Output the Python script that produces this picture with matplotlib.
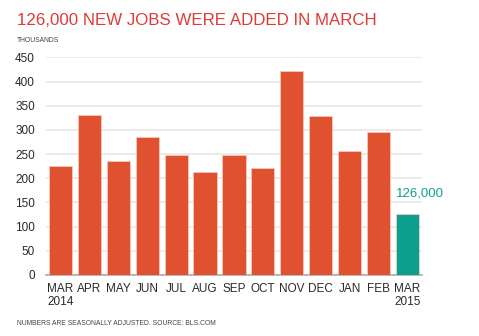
import matplotlib
matplotlib.use('Agg')
import matplotlib.pyplot as plt

plt.rcParams['font.family'] = ['Liberation Sans', 'DejaVu Sans']

# datos (miles de empleos)
meses = ['MAR\n2014', 'APR', 'MAY', 'JUN', 'JUL', 'AUG', 'SEP', 'OCT', 'NOV', 'DEC', 'JAN', 'FEB', 'MAR\n2015']
empleos = [225, 330, 236, 286, 249, 212, 249, 222, 422, 328, 257, 296, 126]
yticks = [0, 50, 100, 150, 200, 250, 300, 350, 400, 450]

naranja = '#e0522f'
verde = '#0e9e8e'
colores = [naranja] * 12 + [verde]

fig = plt.figure(figsize=(4.79, 3.36), dpi=100)
ax = fig.add_axes([0.096, 0.182, 0.785, 0.647])

x = list(range(len(meses)))
ax.bar(x, empleos, width=0.8, color=colores, edgecolor='#f3d0c6', linewidth=0.5, zorder=3)

ax.set_xlim(-0.5, 12.5)
ax.set_ylim(0, 450)
ax.set_yticks(yticks)
ax.set_xticks(x)
ax.set_xticklabels(meses, fontsize=8.5, color='#2a2a2a', linespacing=1.1)
ax.tick_params(axis='both', length=0, labelsize=8.5, labelcolor='#2a2a2a')
ax.tick_params(axis='x', pad=6)
ax.tick_params(axis='y', pad=8)
for lab in ax.get_xticklabels():
    lab.set_verticalalignment('top')

ax.grid(axis='y', color='#e8e8e8', linewidth=1.2, zorder=0)
for s in ['top', 'right', 'left']:
    ax.spines[s].set_visible(False)
ax.spines['bottom'].set_color('#aaaaaa')
ax.spines['bottom'].set_linewidth(1.2)

ax.text(x[-1] - 0.4, empleos[-1] + 30, '126,000', color=verde, fontsize=9.5, ha='left', va='bottom')

fig.text(0.036, 0.94, '126,000 NEW JOBS WERE ADDED IN MARCH', color='#e03a35', fontsize=12.2, ha='left', va='center')
fig.text(0.036, 0.878, 'THOUSANDS', color='#444444', fontsize=4.9, ha='left', va='center')
fig.text(0.036, 0.036, 'NUMBERS ARE SEASONALLY ADJUSTED. SOURCE: BLS.COM', color='#444444', fontsize=4.9, ha='left', va='center')

fig.savefig('out.png', dpi=100)
